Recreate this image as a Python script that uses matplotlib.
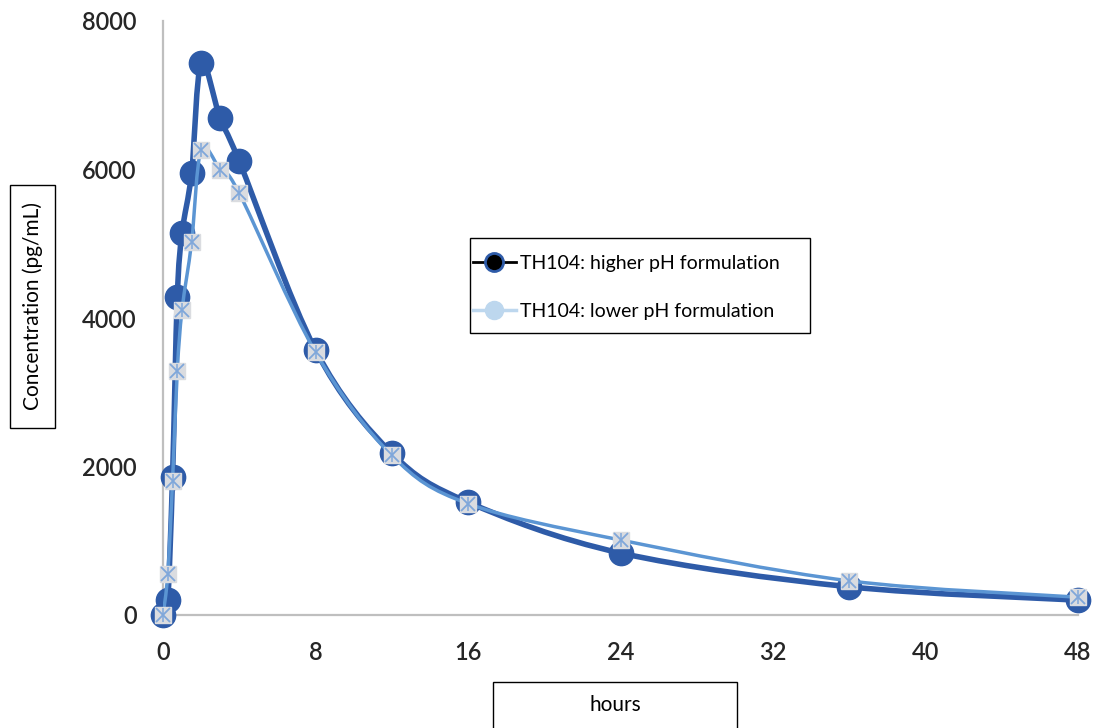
import matplotlib
matplotlib.use("Agg")
import matplotlib.pyplot as plt
from matplotlib.path import Path
from matplotlib.patches import PathPatch, Rectangle
from matplotlib.lines import Line2D

# sampling times (hours) and concentrations (pg/mL)
hours = [0, 0.25, 0.5, 0.75, 1, 1.5, 2, 3, 4, 8, 12, 16, 24, 36, 48]
higher_ph = [0, 200, 1860, 4280, 5150, 5950, 7430, 6690, 6110, 3570, 2180, 1520, 835, 380, 200]
lower_ph = [0, 550, 1800, 3290, 4110, 5020, 6260, 6000, 5680, 3540, 2150, 1500, 1010, 460, 240]

x_ticks = [0, 8, 16, 24, 32, 40, 48]
y_ticks = [0, 2000, 4000, 6000, 8000]

DARK = "#2E5BA8"
LIGHT = "#5B95D3"

plt.rcParams["font.family"] = ["Lato", "DejaVu Sans"]


def smooth_path(x, y, k=1 / 6):
    # excel-style smoothed line as cubic bezier segments
    n = len(x)
    verts = [(x[0], y[0])]
    codes = [Path.MOVETO]
    for i in range(n - 1):
        a = max(i - 1, 0)
        d = min(i + 2, n - 1)
        c1 = (x[i] + (x[i + 1] - x[a]) * k, y[i] + (y[i + 1] - y[a]) * k)
        c2 = (x[i + 1] - (x[d] - x[i]) * k, y[i + 1] - (y[d] - y[i]) * k)
        verts += [c1, c2, (x[i + 1], y[i + 1])]
        codes += [Path.CURVE4] * 3
    return Path(verts, codes)


fig = plt.figure(figsize=(10.94, 7.28), dpi=100)
ax = fig.add_axes([163 / 1094, 113 / 728, 915 / 1094, 594 / 728])

ax.add_patch(PathPatch(smooth_path(hours, higher_ph), fill=False, edgecolor=DARK,
                       lw=4, capstyle="round", joinstyle="round", zorder=2))
ax.plot(hours, higher_ph, ls="none", marker="o", ms=17.5, mfc=DARK, mec=DARK,
        clip_on=False, zorder=3)

ax.add_patch(PathPatch(smooth_path(hours, lower_ph), fill=False, edgecolor=LIGHT,
                       lw=2.5, capstyle="round", joinstyle="round", zorder=4))
ax.plot(hours, lower_ph, ls="none", marker="s", ms=11.5, mfc="#DADCE0", mec="#DADCE0",
        clip_on=False, zorder=5)
ax.plot(hours, lower_ph, ls="none", marker="x", ms=10, mew=1.3, color="#7FA7DA",
        clip_on=False, zorder=6)
ax.plot(hours, lower_ph, ls="none", marker="|", ms=10, mew=1.1, color="#7FA7DA",
        clip_on=False, zorder=6)

ax.set_xlim(0, 48)
ax.set_ylim(0, 8000)
ax.set_xticks(x_ticks)
ax.set_yticks(y_ticks)
ax.set_xticklabels([str(v) for v in x_ticks], fontweight="semibold")
ax.set_yticklabels([str(v) for v in y_ticks], fontweight="semibold")
ax.tick_params(axis="both", length=0, labelsize=17, colors="#262626")
ax.tick_params(axis="y", pad=19)
ax.tick_params(axis="x", pad=19)
for s in ["top", "right"]:
    ax.spines[s].set_visible(False)
for s in ["left", "bottom"]:
    ax.spines[s].set_color("#BFBFBF")
    ax.spines[s].set_linewidth(1.6)

# legend with its own plain box
handles = [
    Line2D([], [], color="black", lw=2, marker="o", ms=13, mfc="black", mec=DARK, mew=2),
    Line2D([], [], color="#BDD7EE", lw=2.5, marker="o", ms=13, mfc="#BDD7EE", mec="#BDD7EE"),
]
labels = ["TH104: higher pH formulation", "TH104: lower pH formulation"]
fig.patches.append(Rectangle((470 / 1094, 1 - 333 / 728), 340 / 1094, 95 / 728,
                             transform=fig.transFigure, fill=False, ec="black", lw=1))
fig.legend(handles, labels, loc="upper left", bbox_to_anchor=(473 / 1094, 1 - 255 / 728),
           frameon=False, fontsize=14, handlelength=2.2, handletextpad=0.2,
           labelspacing=1.6, borderpad=0, borderaxespad=0)

# axis titles in boxes
fig.patches.append(Rectangle((10 / 1094, 1 - 428 / 728), 45 / 1094, 243 / 728,
                             transform=fig.transFigure, fill=False, ec="black", lw=1))
fig.text(33 / 1094, 1 - 306 / 728, "Concentration (pg/mL)", rotation=90,
         ha="center", va="center", fontsize=15)
fig.patches.append(Rectangle((493 / 1094, -0.01), 244 / 1094, 46 / 728 + 0.01,
                             transform=fig.transFigure, fill=False, ec="black", lw=1))
fig.text(615 / 1094, 1 - 705 / 728, "hours", ha="center", va="center", fontsize=15)

fig.savefig("out.png", dpi=100)
